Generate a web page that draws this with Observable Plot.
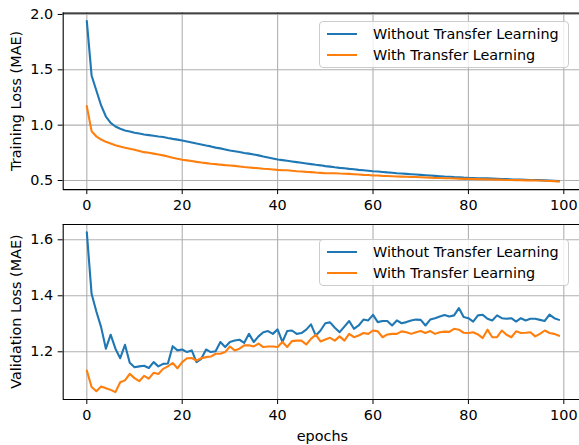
<!DOCTYPE html>
<html>
<head>
<meta charset="utf-8">
<script src="https://cdn.jsdelivr.net/npm/d3@7"></script>
<script src="https://cdn.jsdelivr.net/npm/@observablehq/plot@0.6"></script>
<style>
  html, body { margin: 0; padding: 0; background: #fff; }
  #fig { position: relative; width: 579px; height: 445px; overflow: hidden; font-family: "DejaVu Sans", sans-serif; }
  .panel { position: absolute; left: 0; }
  .legend { position: absolute; left: 319px; width: 250px; height: 47px; box-sizing: border-box;
            border: 1px solid #cccccc; border-radius: 4px; background: rgba(255,255,255,0.8);
            font-size: 14.4px; color: #000; }
  .legend .row { position: absolute; left: 0; height: 20px; width: 100%; }
  .legend .swatch { position: absolute; left: 7px; top: 9px; width: 30px; height: 2px; }
  .legend .label { position: absolute; left: 53px; top: 0; line-height: 20px; white-space: nowrap; }
</style>
</head>
<body>
<div id="fig"></div>
<script>
// Epoch index shared by both panels
const epochs = d3.range(100);

const seriesNames = ["Without Transfer Learning", "With Transfer Learning"];
const seriesColors = ["#1f77b4", "#ff7f0e"];

const xTicks = [0, 20, 40, 60, 80, 100];
const trainTicks = [0.5, 1.0, 1.5, 2.0];
const valTicks = [1.2, 1.4, 1.6];

// Training loss (MAE) per epoch
const trainWithout = [
  1.940, 1.449, 1.313, 1.178, 1.078, 1.021, 0.988, 0.967, 0.952, 0.943,
  0.931, 0.925, 0.916, 0.910, 0.904, 0.898, 0.893, 0.884, 0.876, 0.869,
  0.861, 0.852, 0.843, 0.834, 0.826, 0.816, 0.808, 0.797, 0.790, 0.780,
  0.771, 0.765, 0.757, 0.749, 0.743, 0.735, 0.727, 0.717, 0.708, 0.699,
  0.690, 0.684, 0.678, 0.672, 0.666, 0.660, 0.654, 0.648, 0.642, 0.637,
  0.630, 0.625, 0.619, 0.614, 0.610, 0.605, 0.601, 0.596, 0.592, 0.588,
  0.584, 0.581, 0.577, 0.573, 0.570, 0.566, 0.563, 0.560, 0.557, 0.554,
  0.551, 0.548, 0.545, 0.542, 0.539, 0.536, 0.534, 0.531, 0.529, 0.526,
  0.524, 0.523, 0.521, 0.520, 0.519, 0.518, 0.516, 0.514, 0.512, 0.510,
  0.509, 0.508, 0.507, 0.505, 0.504, 0.503, 0.501, 0.499, 0.497, 0.494
];
const trainWith = [
  1.172, 0.946, 0.898, 0.870, 0.849, 0.834, 0.819, 0.807, 0.795, 0.786,
  0.777, 0.766, 0.756, 0.750, 0.743, 0.735, 0.727, 0.716, 0.705, 0.696,
  0.687, 0.682, 0.676, 0.668, 0.662, 0.657, 0.652, 0.648, 0.643, 0.639,
  0.636, 0.632, 0.627, 0.622, 0.618, 0.614, 0.611, 0.606, 0.604, 0.600,
  0.596, 0.593, 0.592, 0.588, 0.584, 0.581, 0.578, 0.576, 0.572, 0.569,
  0.566, 0.565, 0.566, 0.563, 0.561, 0.560, 0.557, 0.554, 0.551, 0.549,
  0.545, 0.545, 0.542, 0.540, 0.538, 0.536, 0.535, 0.534, 0.531, 0.531,
  0.530, 0.527, 0.526, 0.523, 0.522, 0.521, 0.520, 0.518, 0.517, 0.515,
  0.515, 0.513, 0.512, 0.511, 0.510, 0.509, 0.508, 0.507, 0.505, 0.504,
  0.503, 0.503, 0.501, 0.502, 0.500, 0.500, 0.498, 0.496, 0.494, 0.491
];

// Validation loss (MAE) per epoch
const valWithout = [
  1.627, 1.407, 1.344, 1.288, 1.211, 1.261, 1.211, 1.177, 1.225, 1.161,
  1.145, 1.148, 1.150, 1.142, 1.163, 1.148, 1.157, 1.158, 1.220, 1.205,
  1.208, 1.199, 1.205, 1.163, 1.175, 1.208, 1.199, 1.202, 1.235, 1.217,
  1.235, 1.240, 1.243, 1.232, 1.264, 1.235, 1.255, 1.270, 1.274, 1.264,
  1.280, 1.235, 1.274, 1.276, 1.264, 1.267, 1.279, 1.298, 1.258, 1.276,
  1.302, 1.305, 1.286, 1.270, 1.290, 1.310, 1.282, 1.294, 1.315, 1.312,
  1.332, 1.306, 1.310, 1.310, 1.294, 1.312, 1.302, 1.306, 1.312, 1.315,
  1.314, 1.294, 1.315, 1.320, 1.326, 1.331, 1.326, 1.330, 1.356, 1.324,
  1.320, 1.308, 1.330, 1.332, 1.318, 1.312, 1.330, 1.320, 1.318, 1.320,
  1.308, 1.320, 1.312, 1.318, 1.318, 1.314, 1.310, 1.333, 1.320, 1.314
];
const valWith = [
  1.133, 1.074, 1.059, 1.076, 1.070, 1.064, 1.056, 1.091, 1.098, 1.121,
  1.106, 1.095, 1.114, 1.104, 1.125, 1.121, 1.139, 1.148, 1.160, 1.141,
  1.163, 1.177, 1.178, 1.169, 1.177, 1.181, 1.183, 1.193, 1.193, 1.199,
  1.219, 1.205, 1.211, 1.223, 1.223, 1.219, 1.229, 1.217, 1.219, 1.219,
  1.217, 1.235, 1.217, 1.238, 1.240, 1.240, 1.226, 1.246, 1.261, 1.237,
  1.244, 1.250, 1.240, 1.255, 1.240, 1.264, 1.252, 1.258, 1.267, 1.264,
  1.276, 1.273, 1.252, 1.262, 1.264, 1.264, 1.273, 1.270, 1.264, 1.270,
  1.274, 1.267, 1.274, 1.264, 1.270, 1.272, 1.271, 1.282, 1.279, 1.268,
  1.267, 1.270, 1.262, 1.249, 1.279, 1.252, 1.252, 1.276, 1.261, 1.252,
  1.273, 1.267, 1.268, 1.270, 1.255, 1.264, 1.276, 1.267, 1.264, 1.257
];

const xDomain = [-4.95, 103.29];
const spine = {stroke: "#000", strokeWidth: 1.1};
const grid = {stroke: "#b0b0b0", strokeWidth: 1.1};

function panel({series, yDomain, yTicks, yLabel, height, marginTop, marginBottom, xLabel}) {
  const rows = series.map((vals, i) => epochs.map(e => ({epoch: e, value: vals[e], name: seriesNames[i]})));
  const chart = Plot.plot({
    width: 579,
    height,
    marginLeft: 62.7,
    marginRight: 0,
    marginTop,
    marginBottom,
    style: {fontFamily: "'DejaVu Sans', sans-serif", fontSize: "14.4px", color: "#000", background: "transparent", overflow: "visible"},
    x: {domain: xDomain, ticks: xTicks, tickSize: 5, tickPadding: 5, tickFormat: d3.format("d"), label: null},
    y: {domain: yDomain, ticks: yTicks, tickSize: 5, tickPadding: 5, tickFormat: d3.format(".1f"), label: null},
    marks: [
      Plot.ruleX(xTicks, grid),
      Plot.ruleY(yTicks, grid),
      ...rows.map((r, i) => Plot.line(r, {x: "epoch", y: "value", stroke: seriesColors[i], strokeWidth: 2.1})),
      Plot.ruleY(yDomain, spine),
      Plot.ruleX([xDomain[0]], spine)
    ]
  });
  const svg = d3.select(chart);
  const x = chart.scale("x"), y = chart.scale("y");
  const yMid = y.apply((yDomain[0] + yDomain[1]) / 2);
  svg.append("text")
    .attr("transform", `translate(21,${yMid}) rotate(-90)`)
    .attr("text-anchor", "middle")
    .attr("fill", "#000")
    .text(yLabel);
  if (xLabel) {
    svg.append("text")
      .attr("x", x.apply((xDomain[0] + 103.95) / 2))
      .attr("y", height - 4)
      .attr("text-anchor", "middle")
      .attr("fill", "#000")
      .text(xLabel);
  }
  return chart;
}

function legend(topPx) {
  const box = document.createElement("div");
  box.className = "legend";
  box.style.top = topPx + "px";
  seriesNames.forEach((name, i) => {
    const row = document.createElement("div");
    row.className = "row";
    row.style.top = (2 + i * 20.6) + "px";
    const sw = document.createElement("div");
    sw.className = "swatch";
    sw.style.background = seriesColors[i];
    const lb = document.createElement("div");
    lb.className = "label";
    lb.textContent = name;
    row.append(sw, lb);
    box.append(row);
  });
  return box;
}

const fig = document.getElementById("fig");

const trainPanel = panel({
  series: [trainWithout, trainWith],
  yDomain: [0.4178, 2.0122],
  yTicks: trainTicks,
  yLabel: "Training Loss (MAE)",
  height: 205, marginTop: 12.6, marginBottom: 15.9
});
trainPanel.classList.add("panel");
trainPanel.style.top = "0px";
fig.append(trainPanel);

const valPanel = panel({
  series: [valWithout, valWith],
  yDomain: [1.0296, 1.6546],
  yTicks: valTicks,
  yLabel: "Validation Loss (MAE)",
  height: 240, marginTop: 19, marginBottom: 46,
  xLabel: "epochs"
});
valPanel.classList.add("panel");
valPanel.style.top = "205px";
fig.append(valPanel);

fig.append(legend(21));
fig.append(legend(239));
</script>
</body>
</html>
